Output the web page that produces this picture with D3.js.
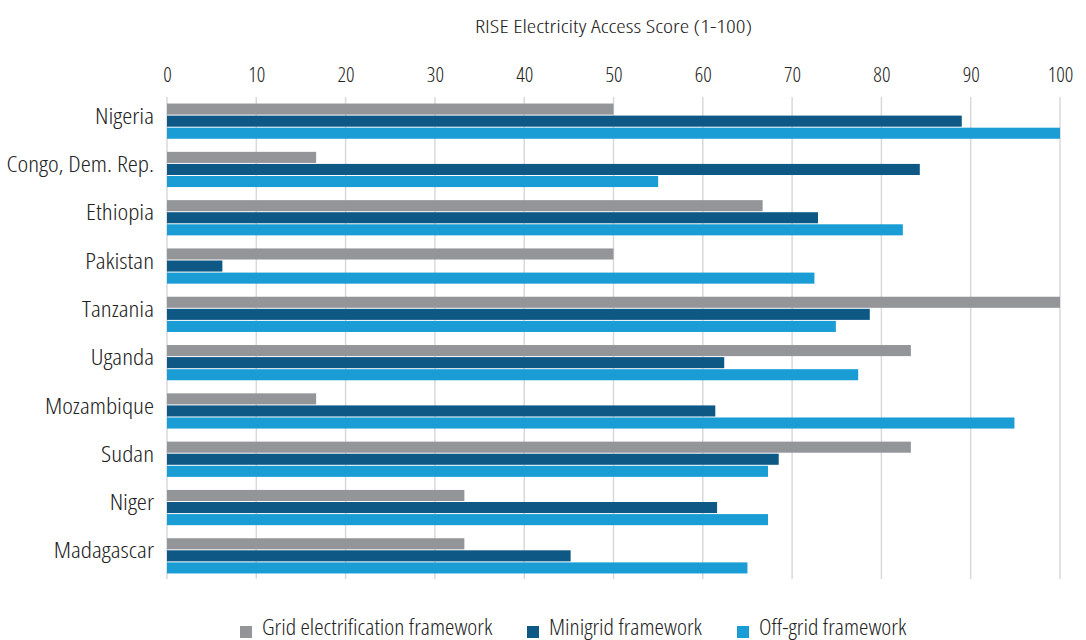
<!DOCTYPE html>
<html>
<head>
<meta charset="utf-8">
<script src="https://cdn.jsdelivr.net/npm/d3@7"></script>
<style>
  body { margin: 0; background: #fff; }
  svg text { font-family: "Open Sans", sans-serif; font-stretch: condensed; font-weight: 300; fill: #222; }
</style>
</head>
<body>
<svg id="chart" width="1086" height="640"></svg>
<script>
// Countries, top to bottom
const countries = ["Nigeria", "Congo, Dem. Rep.", "Ethiopia", "Pakistan", "Tanzania",
                   "Uganda", "Mozambique", "Sudan", "Niger", "Madagascar"];
// RISE scores per framework
const gridScores     = [50, 16.7, 66.7, 50, 100, 83.3, 16.7, 83.3, 33.3, 33.3];
const minigridScores = [89, 84.3, 72.9, 6.2, 78.7, 62.4, 61.4, 68.5, 61.6, 45.2];
const offgridScores  = [100, 55, 82.4, 72.5, 74.9, 77.4, 94.9, 67.3, 67.3, 65];
const seriesNames = ["Grid electrification framework", "Minigrid framework", "Off-grid framework"];
const seriesColors = ["#949599", "#0e5886", "#1a9dd5"];
const xTicks = [0, 10, 20, 30, 40, 50, 60, 70, 80, 90, 100];
const axisTitle = "RISE Electricity Access Score (1-100)";

const series = [gridScores, minigridScores, offgridScores];
const svg = d3.select("#chart");

// widen condensed text horizontally about its own anchor x
function widen(sel, sx) {
  sel.each(function () {
    const t = d3.select(this);
    const x0 = +t.attr("x") || 0;
    t.attr("x", x0 / sx).attr("transform", `scale(${sx},1)`);
  });
}

const x = d3.scaleLinear().domain([0, 100]).range([167, 1060]);
const y = d3.scaleBand().domain(countries).range([97, 580]).paddingInner(0.25).paddingOuter(0.125);
const ySub = d3.scaleBand().domain([0, 1, 2]).range([0, y.bandwidth()]);

// vertical gridlines
svg.append("g").selectAll("line").data(xTicks).join("line")
  .attr("x1", d => x(d)).attr("x2", d => x(d))
  .attr("y1", 97).attr("y2", 579)
  .attr("stroke", "#d9d9d9").attr("stroke-width", 1.5);

// top axis labels
const axis = d3.axisTop(x).tickValues(xTicks).tickSize(0).tickPadding(0);
const gAxis = svg.append("g").attr("transform", "translate(0,82)").call(axis);
gAxis.select(".domain").remove();
gAxis.selectAll("text").attr("font-size", 20).attr("dy", 0).call(widen, 1.05);

// axis title
svg.append("g").attr("transform", `translate(${(x(0) + x(100)) / 2},33)`)
  .append("text").attr("x", 0).attr("y", 0)
  .attr("text-anchor", "middle").attr("font-size", 19).text(axisTitle)
  .call(widen, 1.26);

// category labels
const yAxis = d3.axisLeft(y).tickSize(0).tickPadding(13);
const gY = svg.append("g").attr("transform", `translate(${x(0)},0)`).call(yAxis);
gY.select(".domain").remove();
gY.selectAll("text").attr("font-size", 22).attr("dy", "0.12em").call(widen, 1.16);

// bars
series.forEach((vals, si) => {
  svg.append("g").selectAll("rect").data(vals).join("rect")
    .attr("x", x(0))
    .attr("y", (d, i) => y(countries[i]) + ySub(si) + 0.5)
    .attr("width", d => x(d) - x(0))
    .attr("height", ySub.bandwidth() - 1)
    .attr("fill", seriesColors[si]);
});

// legend
const legendX = [240, 527, 737];
const leg = svg.append("g").selectAll("g").data(seriesNames).join("g")
  .attr("transform", (d, i) => `translate(${legendX[i]},626)`);
leg.append("rect").attr("x", 0).attr("y", 0).attr("width", 12).attr("height", 12)
  .attr("fill", (d, i) => seriesColors[i]);
leg.append("text").attr("x", 22).attr("y", 8.5).attr("font-size", 21.5).text(d => d)
  .call(widen, 1.105);
</script>
</body>
</html>
